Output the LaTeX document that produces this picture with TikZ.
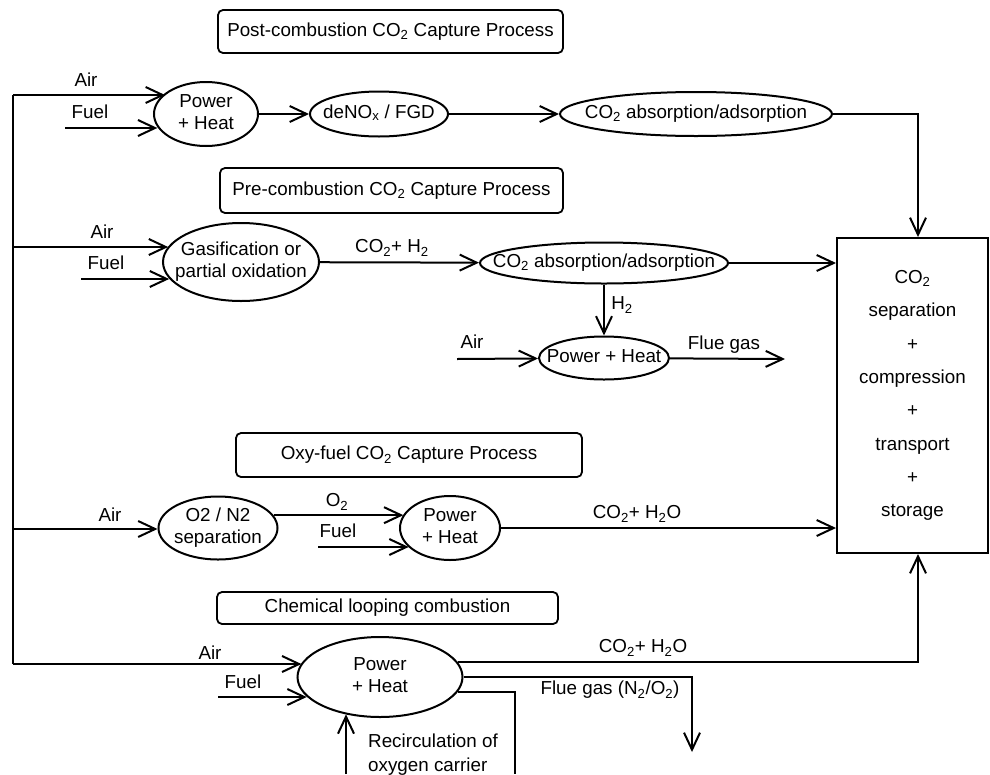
\documentclass[tikz,border=0pt]{standalone}
\usepackage{fontspec}
\setmainfont{Liberation Sans}
\usetikzlibrary{arrows.meta,shapes.geometric}
\newcommand{\zw}[1]{\makebox[0pt]{\begin{tabular}{@{}c@{}}#1\end{tabular}}}
\newcommand{\sbs}[1]{\textsubscript{#1}}
\begin{document}
\begin{tikzpicture}[x=1pt,y=-1pt,
  every node/.style={font=\fontsize{18.8}{21.5}\selectfont, inner sep=0pt},
  ln/.style={line width=2pt},
  arr/.style={line width=2pt,-{Straight Barb[length=17pt,width=16pt]}},
  proc/.style={draw,ellipse,line width=2pt,inner sep=0pt},
  titlebox/.style={draw,rounded corners=5pt,line width=1.8pt}]
\useasboundingbox (0,0) rectangle (990,774);

% title boxes
\node[titlebox,minimum width=345pt,minimum height=43pt] (tPost) at (390.5,31.5) {Post-combustion CO\sbs{2} Capture Process};
\node[titlebox,minimum width=343pt,minimum height=45pt] (tPre) at (391.5,190.5) {Pre-combustion CO\sbs{2} Capture Process};
\node[titlebox,minimum width=346pt,minimum height=44pt] (tOxy) at (409,455) {Oxy-fuel CO\sbs{2} Capture Process};
\node[titlebox,minimum width=341pt,minimum height=32pt] (tChem) at (387.5,608) {Chemical looping combustion};

% process ellipses
\node[proc,minimum width=104pt,minimum height=64pt] (pw1) at (206,114) {\zw{Power\\+ Heat}};
\node[proc,minimum width=138pt,minimum height=45pt] (denox) at (379,114) {\zw{deNO\sbs{x} / FGD}};
\node[proc,minimum width=272pt,minimum height=44pt] (abs1) at (696,114) {\zw{CO\sbs{2} absorption/adsorption}};
\node[proc,minimum width=156pt,minimum height=78pt] (gas) at (241,262) {\zw{Gasification or\\partial oxidation}};
\node[proc,minimum width=248pt,minimum height=41pt] (abs2) at (604,263) {\zw{CO\sbs{2} absorption/adsorption}};
\node[proc,minimum width=130pt,minimum height=43pt] (pw3) at (604,358) {\zw{Power + Heat}};
\node[proc,minimum width=119pt,minimum height=63pt] (o2n2) at (218,528) {\zw{O2 / N2\\separation}};
\node[proc,minimum width=100pt,minimum height=64pt] (pw4) at (450,528) {\zw{Power\\+ Heat}};
\node[proc,minimum width=165pt,minimum height=80pt] (pw5) at (380,677) {\zw{Power\\+ Heat}};

% storage box
\node[draw,line width=2pt,minimum width=151pt,minimum height=315pt,align=center,
      font=\fontsize{18.8}{33.3}\selectfont] (store) at (912.5,395.5)
  {CO\sbs{2}\\separation\\+\\compression\\+\\transport\\+\\storage};

% coordinates
\coordinate (tTop) at (13,95);
\coordinate (t2) at (13,247);
\coordinate (t3) at (13,529);
\coordinate (tBot) at (13,664);
\coordinate (f1) at (65,128);
\coordinate (f2) at (81,279);
\coordinate (a3) at (457,359);
\coordinate (fg3) at (785,359);
\coordinate (f4) at (318,547);
\coordinate (f5) at (218,697);
\coordinate (c1) at (918,114);
\coordinate (c4) at (918,662);
\coordinate (fgc) at (692,677);
\coordinate (fge) at (692,752);
\coordinate (rc) at (515,774);
\coordinate (rb) at (346,774);

% connectors
\draw[ln] (tTop) -- (tBot);
\draw[arr] (tTop) -- (tTop -| pw1.153.8);
\draw[arr] (f1) -- (f1 -| pw1.195.3);
\draw[arr] (pw1) -- (denox);
\draw[arr] (denox) -- (abs1);
\draw[arr] (abs1) -- (c1) -- (c1 |- store.north);
\draw[arr] (t2) -- (t2 -| gas.168.2);
\draw[arr] (f2) -- (f2 -| gas.193.6);
\draw[arr] (gas) -- (abs2);
\draw[arr] (abs2) -- (abs2 -| store.west);
\draw[arr] (abs2) -- (pw3);
\draw[arr] (a3) -- (pw3);
\draw[arr] (pw3) -- (fg3);
\draw[arr] (t3) -- (t3 -| o2n2.west);
\draw[arr] (o2n2.13.5) -- (o2n2.13.5 -| pw4.164.1);
\draw[arr] (f4) -- (f4 -| pw4.205.3);
\draw[arr] (pw4) -- (pw4 -| store.west);
\draw[arr] (tBot) -- (tBot -| pw5.170.5);
\draw[arr] (f5) -- (f5 -| pw5.195.6);
\draw[arr] (pw5.11.1) -- (pw5.11.1 -| c4) -- (c4 |- store.south);
\draw[arr] (pw5) -- (fgc) -- (fge);
\draw[ln] (pw5.-11.1) -- (pw5.-11.1 -| rc) -- (rc);
\draw[arr] (rb) -- (rb |- pw5.227);

% labels
\node (lAir1) at (86,80) {Air};
\node (lFuel1) at (90,112) {Fuel};
\node (lAir2) at (102,232) {Air};
\node (lFuel2) at (106,263) {Fuel};
\node (lCH) at (392,248) {CO\sbs{2}+ H\sbs{2}};
\node (lH2) at (622,305) {H\sbs{2}};
\node (lAir3) at (472,342) {Air};
\node (lFlue3) at (724,345) {Flue gas};
\node (lAir4) at (110,515) {Air};
\node (lO2) at (337,502) {O\sbs{2}};
\node (lFuel4) at (338,531) {Fuel};
\node (lCW4) at (637,514) {CO\sbs{2}+ H\sbs{2}O};
\node (lAir5) at (210,653) {Air};
\node (lFuel5) at (243,682) {Fuel};
\node (lCW5) at (643,648) {CO\sbs{2}+ H\sbs{2}O};
\node (lFlue5) at (610,690) {Flue gas (N\sbs{2}/O\sbs{2})};
\node[anchor=west,align=left,font=\fontsize{18.8}{24}\selectfont] (lRec) at (368,755) {Recirculation of\\oxygen carrier};
\end{tikzpicture}
\end{document}
